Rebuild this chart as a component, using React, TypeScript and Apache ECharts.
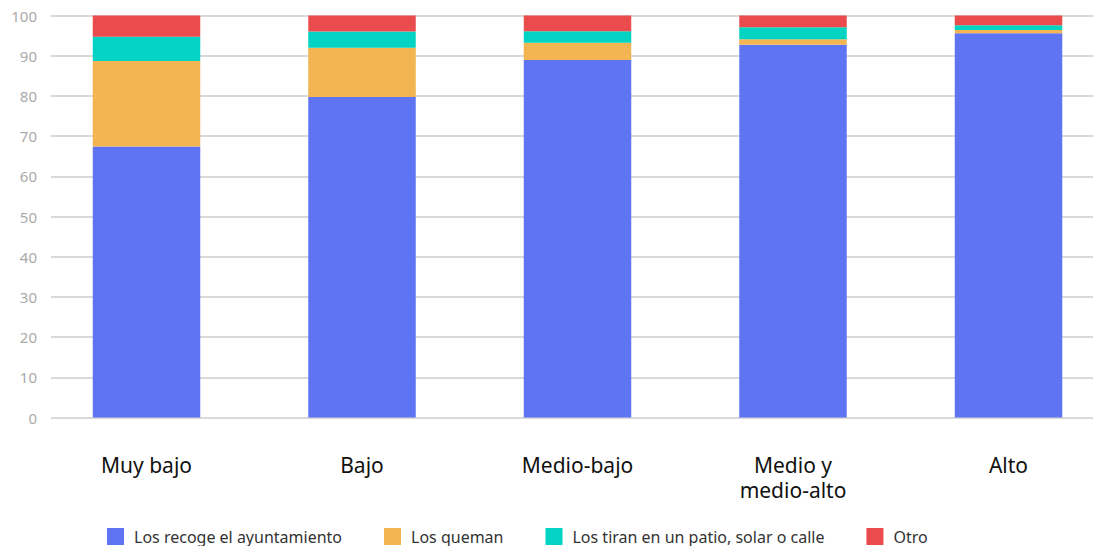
import React, { useEffect, useRef } from "react";
import * as echarts from "echarts";

const categories = ["Muy bajo", "Bajo", "Medio-bajo", "Medio y\nmedio-alto", "Alto"];
const seriesNames = ["Los recoge el ayuntamiento", "Los queman", "Los tiran en un patio, solar o calle", "Otro"];
const recoge = [67.4, 79.7, 88.9, 92.7, 95.6];
const queman = [21.3, 12.3, 4.3, 1.4, 0.8];
const tiran = [6.0, 4.0, 2.9, 3.0, 1.2];
const otro = [5.3, 4.0, 3.9, 2.9, 2.4];
const colors = ["#5F74F2", "#F2B552", "#02D3C2", "#EA4C4E"];

const FONT = "'Noto Sans', sans-serif";

export default function App() {
  const ref = useRef<HTMLDivElement>(null);
  useEffect(() => {
    const chart = echarts.init(ref.current!, null, { renderer: "svg" });
    const values = [recoge, queman, tiran, otro];
    chart.setOption({
      animation: false,
      textStyle: { fontFamily: FONT },
      legend: {
        top: 528,
        left: 107,
        padding: 0,
        itemWidth: 17,
        itemHeight: 17,
        itemGap: 42,
        icon: "rect",
        textStyle: { fontSize: 16, color: "#333", fontFamily: FONT, padding: [0, 0, 0, 5] },
        data: seriesNames,
      },
      grid: [
        { left: 146.5, right: 84.5, top: 15.5, bottom: 128.5 },
        { left: 51, right: 0, top: 15.5, bottom: 128.5 },
      ],
      xAxis: [
        {
          type: "category",
          gridIndex: 0,
          data: categories,
          boundaryGap: false,
          axisLine: { show: false },
          axisTick: { show: false },
          splitLine: { show: false },
          axisLabel: { fontSize: 21, color: "#111", margin: 35, lineHeight: 25, fontFamily: FONT },
        },
        { type: "value", gridIndex: 1, show: false, min: 0, max: 1 },
      ],
      yAxis: [
        { type: "value", gridIndex: 0, min: 0, max: 100, interval: 10, show: false },
        {
          type: "value",
          gridIndex: 1,
          min: 0,
          max: 100,
          interval: 10,
          axisLine: { show: false },
          axisTick: { show: false },
          axisLabel: { fontSize: 15, color: "#aaa", margin: 14, fontFamily: FONT },
          splitLine: { lineStyle: { color: "#cccccc", width: 1.5 } },
        },
      ],
      series: [
        ...seriesNames.map((name, i) => ({
          name,
          type: "bar",
          stack: "total",
          xAxisIndex: 0,
          yAxisIndex: 0,
          barWidth: 107.5,
          itemStyle: { color: colors[i] },
          data: values[i],
        })),
        { type: "line", xAxisIndex: 1, yAxisIndex: 1, data: [], silent: true },
      ],
    });
    return () => chart.dispose();
  }, []);
  return <div ref={ref} style={{ width: 1093, height: 546, position: "absolute", left: 0, top: 0 }} />;
}
